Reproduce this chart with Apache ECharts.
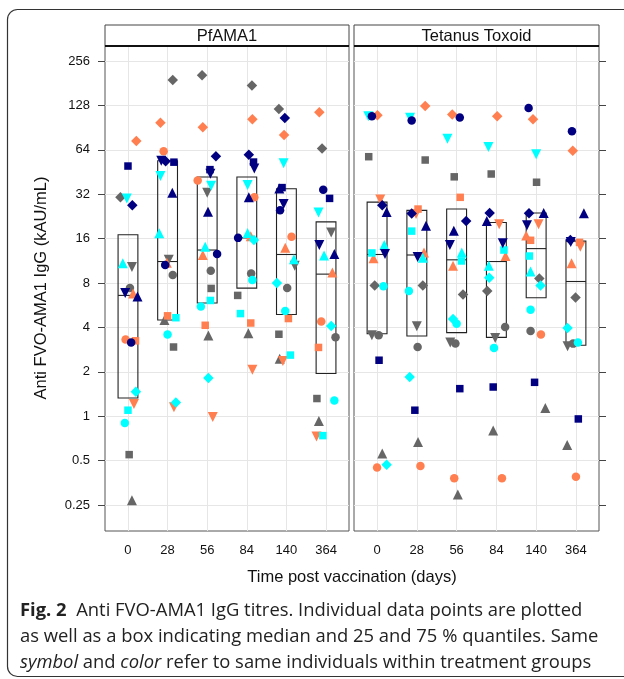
<!DOCTYPE html>
<html><head><meta charset="utf-8">
<script src="https://cdn.jsdelivr.net/npm/echarts@6/dist/echarts.min.js"></script>
<style>html,body{margin:0;padding:0;background:#fff;} #c{width:624px;height:679px;}</style>
</head><body><div id="c"></div>
<script>
// ---------- data ----------
const days = ['0', '28', '56', '84', '140', '364'];
const yTicks = [0.25, 0.5, 1, 2, 4, 8, 16, 32, 64, 128, 256];
const panels = ['PfAMA1', 'Tetanus Toxoid'];
// rows in every colour array: circle, square, diamond, triangle up, triangle down
// values per time point (0, 28, 56, 84, 140, 364), null = missing

// PfAMA1
const pfNavy = [
  [3.17, 10.6, 12.6, 16.2, 24.9, 34.3],
  [49.7, 52.8, 47, 52.9, 35.5, 30],
  [27, 53.5, 58, 59.3, 105, null],
  [6.5, 32.7, 24.4, 30.5, 35, 12.6],
  [6.85, 54, 44, 47.8, 27.5, 14.5]];
const pfCyan = [
  [0.90, 3.59, 5.56, 8.4, 5.17, 1.28],
  [1.10, 4.66, 6.1, 4.97, 2.6, 0.74],
  [1.47, 1.24, 1.82, 15.7, 8.0, 4.09],
  [10.9, 17.4, 14.1, 17.5, 11.6, 12.3],
  [30, 42.5, 36.5, 37, 52, 24.1]];
const pfCoral = [
  [3.32, 62.7, 39.6, 30.5, 16.5, 4.4],
  [3.25, 4.8, 4.14, 4.29, 4.6, 2.93],
  [73.5, 97.6, 91, 103, 80.6, 115],
  [6.8, 11, 12.4, 16.6, 13.9, 9.45],
  [1.21, 1.15, 0.99, 2.07, 2.37, 0.73]];
const pfGray = [
  [7.4, 9.06, 9.7, 9.3, 7.4, 3.43],
  [0.55, 2.95, 7.36, 6.6, 3.6, 1.32],
  [30.5, 190, 205, 175, 121, 65.4],
  [0.27, 4.5, 3.53, 3.65, 2.46, 0.93],
  [10.3, 11.5, 32.7, null, 10.5, 17.6]];
const pfQ1 = [1.33, 4.5, 5.86, 7.4, 4.9, 1.95];
const pfMedian = [6.6, 11.2, 13.4, 16.2, 12.5, 9.2];
const pfQ3 = [17.0, 54, 41.9, 41.9, 34.9, 20.8];

// Tetanus Toxoid
const ttNavy = [
  [108, 101, 106, null, 123, 85.5],
  [2.4, 1.1, 1.54, 1.58, 1.7, 0.96],
  [27, 23.7, 21.1, 23.9, 23.8, 15.7],
  [24.3, 19.6, 18.1, 21.1, 23.9, 23.8],
  [12.6, 12.0, 14.5, 14.9, 19.7, 15.2]];
const ttCyan = [
  [7.6, 7.07, 4.24, 2.91, 5.28, 3.16],
  [12.8, 18, 11.3, 13.4, 12.2, null],
  [0.47, 1.85, 4.56, 8.7, 7.7, 3.97],
  [14.5, 11.9, 12.9, 10.5, 9.6, null],
  [108, 105.7, 76, 66.8, 59.7, null]];
const ttCoral = [
  [0.45, 0.46, 0.38, 0.38, 3.59, 0.39],
  [null, 25.4, 30.5, null, 15.6, 15.1],
  [110, 127, 111, 108, 103, 63],
  [11.8, 12.9, 10.5, 12.2, 16.8, 10.9],
  [29.5, 23.5, null, 20, 20, 14.1]];
const ttGray = [
  [3.54, 2.95, 3.12, 4.03, 3.78, 3.11],
  [57.5, 54.6, 42, 43.9, 38.6, null],
  [7.7, 7.7, 6.7, 7.06, 8.6, 6.4],
  [0.56, 0.67, 0.295, 0.80, 1.14, 0.64],
  [3.54, 4.08, 3.16, 3.39, null, 2.98]];
const ttQ1 = [3.63, 3.5, 3.69, 3.43, 6.36, 3.03];
const ttMedian = [12.5, 12.4, 11.5, 11.2, 13.7, 8.2];
const ttQ3 = [28.3, 24.9, 25.4, 20.6, 23.9, 15.4];

// horizontal jitter of each point (display offset within its day)
const pfNavyJit = [[0.08,-0.06,0.25,-0.22,-0.16,-0.07],[0,0.16,0.07,0.17,-0.11,0.09],[0.11,-0.05,0.22,0.05,-0.04,0],[0.24,0.12,0.02,0.05,-0.18,0.21],[-0.07,-0.16,0.08,0.19,-0.07,-0.17]];
const pfCyanJit = [[-0.08,0,-0.16,0.14,-0.03,0.21],[0,0.21,0.08,-0.16,0.1,-0.08],[0.2,0.21,0.03,0.18,-0.24,0.13],[-0.13,-0.21,-0.05,0.02,0.19,-0.05],[-0.03,-0.18,0.1,0.02,-0.07,-0.19]];
const pfCoralJit = [[-0.06,-0.1,-0.24,0.19,0.13,-0.12],[0.19,0,-0.05,0.1,0.05,-0.19],[0.21,-0.18,-0.11,0.14,-0.06,-0.17],[0.13,-0.02,-0.11,0.1,-0.03,0.16],[0.15,0.16,0.14,0.14,-0.09,-0.24]];
const pfGrayJit = [[0.05,0.13,0.09,0.11,0.02,0.24],[0.03,0.15,0.1,-0.23,-0.19,-0.23],[-0.19,0.13,-0.13,0.13,-0.19,-0.1],[0.1,-0.08,0.03,0.04,-0.17,-0.18],[0.1,0.03,0,0,0.21,0.13]];
const ttNavyJit = [[-0.13,-0.13,0.08,0,-0.19,-0.1],[0.05,-0.05,0.08,-0.08,-0.04,0.06],[0.13,-0.13,0.24,-0.17,-0.18,-0.14],[0.24,0.23,-0.07,-0.24,0.19,0.2],[0.2,0.02,-0.17,0.16,-0.23,-0.13]];
const ttCyanJit = [[0.16,-0.2,0,-0.06,-0.14,0.05],[-0.13,-0.13,0.12,0.19,-0.17,0],[0.24,-0.18,-0.09,-0.18,0.11,-0.21],[0.18,0.15,0.13,-0.19,-0.14,0],[-0.22,-0.17,-0.23,-0.2,0,0]];
const ttCoralJit = [[0,0.09,-0.06,0.14,0.12,0],[0,0.03,0.09,0,-0.14,0.09],[0.01,0.21,-0.11,0.02,-0.08,-0.08],[-0.09,0.18,-0.09,0.23,-0.25,-0.11],[0.08,-0.02,0,0.07,0.06,0.11]];
const ttGrayJit = [[0.04,0.02,-0.03,0.22,-0.14,-0.07],[-0.21,0.21,-0.06,-0.13,0.01,0],[-0.06,0.15,0.16,-0.23,0.08,-0.01],[0.13,0.03,0.03,-0.08,0.23,-0.22],[-0.13,0,-0.16,-0.03,0,-0.21]];

// ---------- styling ----------
const COLORS = { navy: '#000080', cyan: '#00FFFF', coral: '#FF7F50', gray: '#666666' };
const SHAPES = [
  { symbol: 'circle', size: 8.5, rotate: 0 },
  { symbol: 'rect', size: 7.5, rotate: 0 },
  { symbol: 'diamond', size: 10.5, rotate: 0 },
  { symbol: 'triangle', size: 10, rotate: 0 },
  { symbol: 'triangle', size: 10, rotate: 180 }
];
const FONT = '"Liberation Sans", Arial, sans-serif';
const textColor = '#111';

const chart = echarts.init(document.getElementById('c'), null, { renderer: 'canvas' });

const series = [];
function addGroup(panelIdx, colorName, values, jit) {
  values.forEach((row, s) => {
    const sh = SHAPES[s];
    const data = [];
    row.forEach((v, d) => { if (v != null) data.push([d + 1 + jit[s][d], v]); });
    series.push({
      type: 'scatter', xAxisIndex: panelIdx, yAxisIndex: panelIdx,
      symbol: sh.symbol, symbolSize: sh.size, symbolRotate: sh.rotate,
      itemStyle: { color: COLORS[colorName], opacity: 1 },
      data: data, z: 3, silent: true, animation: false
    });
  });
}
function addBoxes(panelIdx, q1, med, q3) {
  series.push({
    type: 'custom', xAxisIndex: panelIdx, yAxisIndex: panelIdx, z: 2, silent: true, animation: false,
    data: days.map((d, i) => [i + 1, q1[i], med[i], q3[i]]),
    renderItem: function (params, api) {
      const x = api.value(0);
      const a = api.coord([x - 0.25, api.value(3)]);
      const b = api.coord([x + 0.25, api.value(1)]);
      const m1 = api.coord([x - 0.25, api.value(2)]);
      const m2 = api.coord([x + 0.25, api.value(2)]);
      const st = { stroke: '#222', lineWidth: 1.1, fill: 'none' };
      return { type: 'group', children: [
        { type: 'rect', shape: { x: a[0], y: a[1], width: b[0] - a[0], height: b[1] - a[1] }, style: st },
        { type: 'line', shape: { x1: m1[0], y1: m1[1], x2: m2[0], y2: m2[1] }, style: st }
      ]};
    }
  });
}
// boxes first so points sit on top
addBoxes(0, pfQ1, pfMedian, pfQ3);
addBoxes(1, ttQ1, ttMedian, ttQ3);
addGroup(0, 'gray', pfGray, pfGrayJit);
addGroup(0, 'coral', pfCoral, pfCoralJit);
addGroup(0, 'cyan', pfCyan, pfCyanJit);
addGroup(0, 'navy', pfNavy, pfNavyJit);
addGroup(1, 'gray', ttGray, ttGrayJit);
addGroup(1, 'coral', ttCoral, ttCoralJit);
addGroup(1, 'cyan', ttCyan, ttCyanJit);
addGroup(1, 'navy', ttNavy, ttNavyJit);

const catIdx = days.map((d, i) => i + 1);
function xAxis(gi) {
  return {
    type: 'value', gridIndex: gi, min: 0.42, max: 6.58,
    axisLine: { show: false },
    axisTick: { show: false, customValues: catIdx },
    axisLabel: { customValues: catIdx, formatter: v => days[Math.round(v) - 1], fontSize: 13, color: textColor, fontFamily: FONT, margin: 13 },
    splitLine: { show: true, lineStyle: { color: '#e6e6e6', width: 1 } }
  };
}
function yAxis(gi, right) {
  return {
    type: 'log', logBase: 2, gridIndex: gi, min: 0.167, max: 323.6, position: right ? 'right' : 'left',
    axisLine: { show: false },
    axisTick: { show: true, inside: false, length: 7, customValues: yTicks, lineStyle: { color: '#444', width: 1 } },
    axisLabel: { show: !right, customValues: yTicks, formatter: v => String(Math.round(v * 100) / 100), fontSize: 13, color: textColor, fontFamily: FONT, margin: 15 },
    splitLine: { show: true, lineStyle: { color: '#e6e6e6', width: 1 } }
  };
}

const stripTop = 25, stripH = 21;
const graphics = [
  { type: 'rect', shape: { x: 7.5, y: 9.5, width: 640, height: 667, r: 10 }, style: { stroke: '#333', lineWidth: 1.2, fill: 'none' }, silent: true, z: 0 },
];
[[105, 244], [354, 245]].forEach((p, i) => {
  graphics.push({ type: 'rect', shape: { x: p[0], y: stripTop, width: p[1], height: stripH }, style: { stroke: '#444', lineWidth: 1, fill: '#fff' }, z: 5 });
  graphics.push({ type: 'line', shape: { x1: p[0], y1: stripTop + stripH, x2: p[0] + p[1], y2: stripTop + stripH }, style: { stroke: '#111', lineWidth: 2 }, z: 6 });
  graphics.push({ type: 'text', x: p[0] + p[1] / 2, y: stripTop + stripH / 2 + 1, style: { text: panels[i], font: '16.5px ' + FONT, fill: textColor, align: 'center', verticalAlign: 'middle' }, z: 7 });
});
graphics.push({ type: 'text', x: 41, y: 288, rotation: Math.PI / 2, style: { text: 'Anti FVO-AMA1 IgG (kAU/mL)', font: '16.5px ' + FONT, fill: textColor, align: 'center', verticalAlign: 'middle' }, z: 7 });
graphics.push({ type: 'text', x: 352, y: 577, style: { text: 'Time post vaccination (days)', font: '16.5px ' + FONT, fill: textColor, align: 'center', verticalAlign: 'middle' }, z: 7 });
const capFont = '"Open Sans", "Noto Sans", sans-serif';
const capSize = 18.4;
const capLines = [
  '{b|Fig. 2}  Anti FVO-AMA1 IgG titres. Individual data points are plotted',
  'as well as a box indicating median and 25 and 75 % quantiles. Same',
  '{i|symbol} and {i|color} refer to same individuals within treatment groups'
];
capLines.forEach((t, i) => {
  graphics.push({ type: 'text', x: 20, y: 611 + i * 26, style: {
    text: t, fontFamily: capFont, fontSize: capSize, fill: '#222', align: 'left', verticalAlign: 'middle',
    rich: { b: { fontWeight: 'bold', fontFamily: capFont, fontSize: capSize, fill: '#222' }, i: { fontStyle: 'italic', fontFamily: capFont, fontSize: capSize, fill: '#222' } }
  }, z: 7 });
});

chart.setOption({
  animation: false,
  backgroundColor: '#fff',
  grid: [
    { left: 105, top: 46, width: 244, height: 485, show: true, borderColor: '#555', borderWidth: 1, backgroundColor: 'transparent' },
    { left: 354, top: 46, width: 245, height: 485, show: true, borderColor: '#555', borderWidth: 1, backgroundColor: 'transparent' }
  ],
  xAxis: [xAxis(0), xAxis(1)],
  yAxis: [yAxis(0, false), yAxis(1, true)],
  series: series,
  graphic: { elements: graphics }
});
</script></body></html>
